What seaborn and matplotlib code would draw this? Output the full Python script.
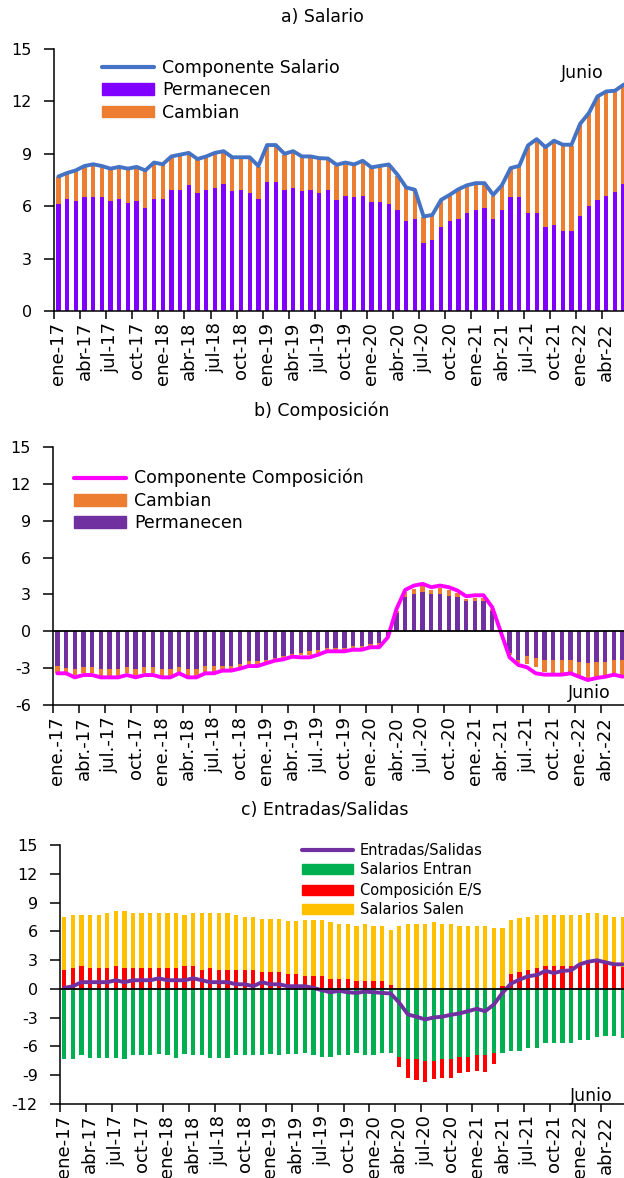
import numpy as np
import seaborn as sns
import matplotlib.pyplot as plt
from matplotlib.lines import Line2D
from matplotlib.patches import Patch

# meses ene-17 a jun-22
meses = ["ene", "feb", "mar", "abr", "may", "jun", "jul", "ago", "sep", "oct", "nov", "dic"]
periodos = [f"{m}-{a}" for a in range(17, 23) for m in meses][:66]
etiquetas = [f"{m}-{a}" for a in range(17, 23) for m in ["ene", "abr", "jul", "oct"]][:22]
etiquetas_b = [f"{m}.-{a}" for a in range(17, 23) for m in ["ene", "abr", "jul", "oct"]][:22]

# a) Salario
componente_salario = [7.7, 7.9, 8.05, 8.3, 8.4, 8.3, 8.15, 8.25, 8.15, 8.25, 8.05, 8.5,
                      8.4, 8.85, 8.95, 9.05, 8.7, 8.85, 9.05, 9.15, 8.8, 8.8, 8.8, 8.3,
                      9.5, 9.5, 9.0, 9.15, 8.85, 8.85, 8.75, 8.73, 8.37, 8.5, 8.39, 8.6,
                      8.22, 8.31, 8.39, 7.8, 7.07, 6.94, 5.41, 5.5, 6.36, 6.65, 6.97, 7.2,
                      7.32, 7.32, 6.65, 7.2, 8.18, 8.31, 9.48, 9.84, 9.38, 9.75, 9.52, 9.52,
                      10.72, 11.33, 12.29, 12.57, 12.61, 12.96]
permanecen_a = [6.1, 6.4, 6.3, 6.5, 6.5, 6.5, 6.3, 6.4, 6.2, 6.3, 5.9, 6.4,
                6.4, 6.95, 6.95, 7.2, 6.75, 6.95, 7.05, 7.25, 6.85, 6.95, 6.75, 6.4,
                7.4, 7.4, 6.95, 7.05, 6.85, 6.95, 6.75, 6.95, 6.35, 6.6, 6.5, 6.6,
                6.25, 6.25, 6.15, 5.8, 5.15, 5.25, 3.9, 4.05, 4.8, 5.15, 5.25, 5.6,
                5.8, 5.9, 5.25, 5.8, 6.5, 6.5, 5.6, 5.6, 4.8, 4.95, 4.6, 4.6,
                5.45, 6.0, 6.35, 6.6, 6.8, 7.25]
cambian_a = [1.55, 1.45, 1.7, 1.75, 1.85, 1.75, 1.8, 1.8, 1.9, 1.9, 2.1, 2.05,
             1.95, 1.85, 1.95, 1.8, 1.9, 1.85, 1.95, 1.85, 1.9, 1.8, 2.0, 1.85,
             2.05, 2.05, 2.0, 2.05, 1.95, 1.85, 1.95, 1.73, 1.97, 1.85, 1.84, 1.95,
             1.92, 2.01, 2.19, 1.95, 1.87, 1.64, 1.46, 1.4, 1.51, 1.45, 1.67, 1.55,
             1.47, 1.37, 1.35, 1.35, 1.63, 1.76, 3.83, 4.19, 4.53, 4.75, 4.87, 4.87,
             5.22, 5.28, 5.89, 5.92, 5.76, 5.66]

# b) Composicion
componente_composicion = [-3.42, -3.42, -3.75, -3.56, -3.56, -3.75, -3.75, -3.75, -3.56, -3.75, -3.56, -3.56,
                          -3.75, -3.75, -3.42, -3.75, -3.75, -3.42, -3.42, -3.2, -3.2, -3.04, -2.83, -2.83,
                          -2.61, -2.39, -2.28, -2.07, -2.12, -2.12, -1.9, -1.63, -1.63, -1.63, -1.5, -1.5,
                          -1.3, -1.3, -0.49, 1.82, 3.37, 3.72, 3.86, 3.59, 3.72, 3.59, 3.32, 2.85,
                          2.93, 2.93, 1.96, -0.08, -2.12, -2.74, -2.93, -3.42, -3.53, -3.53, -3.53, -3.42,
                          -3.7, -3.97, -3.8, -3.7, -3.53, -3.7]
permanecen_b = [-2.8, -3.0, -3.1, -2.93, -2.93, -3.1, -3.1, -3.1, -2.93, -3.1, -2.93, -2.93,
                -3.1, -3.1, -2.88, -3.1, -3.1, -2.83, -2.83, -2.83, -2.83, -2.66, -2.45, -2.45,
                -2.34, -2.17, -2.0, -1.85, -1.8, -1.63, -1.5, -1.36, -1.36, -1.36, -1.22, -1.22,
                -1.03, -0.98, -0.4, 1.47, 2.77, 3.04, 3.18, 3.04, 3.04, 2.9, 2.77, 2.5,
                2.45, 2.45, 1.68, -0.1, -1.79, -2.31, -1.98, -2.17, -2.34, -2.34, -2.34, -2.34,
                -2.47, -2.6, -2.47, -2.47, -2.34, -2.34]
cambian_b = [-0.6, -0.35, -0.45, -0.5, -0.5, -0.5, -0.5, -0.5, -0.5, -0.5, -0.5, -0.5,
             -0.5, -0.5, -0.45, -0.5, -0.5, -0.45, -0.45, -0.3, -0.3, -0.3, -0.3, -0.3,
             -0.2, -0.15, -0.2, -0.15, -0.15, -0.3, -0.3, -0.2, -0.2, -0.2, -0.2, -0.2,
             -0.2, -0.25, -0.1, 0.2, 0.41, 0.41, 0.49, 0.36, 0.46, 0.47, 0.33, 0.14,
             0.27, 0.27, 0.1, -0.05, -0.11, -0.27, -0.68, -0.71, -1.0, -1.09, -1.09, -1.0,
             -1.22, -1.2, -1.22, -1.14, -1.14, -1.28]

# c) Entradas/Salidas
entradas_salidas = [0.1, 0.28, 0.7, 0.7, 0.7, 0.7, 0.9, 0.7, 0.9, 0.9, 0.9, 1.1,
                    0.9, 0.9, 0.9, 1.1, 0.9, 0.7, 0.7, 0.7, 0.48, 0.48, 0.28, 0.7,
                    0.48, 0.48, 0.28, 0.28, 0.28, 0.1, -0.14, -0.35, -0.2, -0.35, -0.42, -0.28,
                    -0.35, -0.42, -0.48, -1.45, -2.67, -2.9, -3.19, -2.98, -2.9, -2.7, -2.56, -2.32,
                    -2.08, -2.32, -1.63, -0.42, 0.55, 0.97, 1.32, 1.45, 1.87, 1.66, 1.87, 1.94,
                    2.56, 2.84, 2.98, 2.77, 2.56, 2.56]
salarios_entran = [-7.34, -7.34, -6.93, -7.2, -7.2, -7.2, -7.2, -7.34, -6.93, -6.93, -6.93, -6.79,
                   -6.93, -7.2, -6.79, -6.93, -6.93, -7.2, -7.2, -7.2, -6.93, -6.93, -6.93, -6.93,
                   -6.79, -6.93, -6.79, -6.79, -6.65, -6.93, -7.14, -7.14, -6.93, -6.93, -6.72, -6.93,
                   -6.93, -6.72, -6.72, -7.14, -7.34, -7.34, -7.5, -7.5, -7.34, -7.34, -7.14, -7.14,
                   -6.93, -6.93, -6.72, -6.72, -6.48, -6.48, -6.13, -6.13, -5.68, -5.68, -5.6, -5.6,
                   -5.33, -5.33, -4.99, -4.92, -4.92, -5.1]
composicion_es = [1.94, 2.15, 2.35, 2.15, 2.15, 2.15, 2.35, 2.15, 2.15, 2.15, 2.15, 2.15,
                  2.15, 2.15, 2.35, 2.35, 1.94, 2.15, 1.94, 1.94, 1.94, 1.94, 1.94, 1.73,
                  1.73, 1.73, 1.52, 1.52, 1.32, 1.32, 1.32, 1.07, 1.07, 1.07, 0.87, 0.87,
                  0.87, 0.87, 0.45, -1.0, -1.91, -2.16, -2.2, -1.92, -1.91, -1.91, -1.59, -1.52,
                  -1.63, -1.73, -1.14, 0.28, 1.6, 1.73, 1.94, 2.15, 2.35, 2.35, 2.35, 2.35,
                  2.56, 2.7, 2.77, 2.77, 2.56, 2.3]
salarios_salen = [5.54, 5.54, 5.34, 5.54, 5.54, 5.75, 5.79, 5.99, 5.75, 5.75, 5.75, 5.75,
                  5.75, 5.75, 5.34, 5.55, 5.96, 5.75, 5.96, 5.96, 5.75, 5.54, 5.54, 5.54,
                  5.54, 5.54, 5.55, 5.55, 5.81, 5.81, 5.81, 5.86, 5.65, 5.65, 5.64, 5.85,
                  5.64, 5.64, 5.72, 6.51, 6.72, 6.72, 6.72, 6.93, 6.72, 6.72, 6.51, 6.51,
                  6.51, 6.51, 6.3, 6.02, 5.6, 5.61, 5.54, 5.54, 5.34, 5.34, 5.34, 5.34,
                  5.13, 5.2, 5.13, 4.92, 4.92, 5.18]

sns.set_style("white")
plt.rcParams["font.family"] = ["DejaVu Sans"]
plt.rcParams["axes.linewidth"] = 1.1
plt.rcParams["axes.unicode_minus"] = False
for k in ["text.color", "xtick.color", "ytick.color", "axes.labelcolor"]:
    plt.rcParams[k] = "black"

W, H = 624, 1178
fig = plt.figure(figsize=(W / 100, H / 100), dpi=100)


def ejes(left, top, bottom, width=574):
    return fig.add_axes([left / W, 1 - bottom / H, width / W, (bottom - top) / H])


def barras(ax, valores, color):
    sns.barplot(x=periodos, y=valores, order=periodos, color=color, width=0.5,
                saturation=1, edgecolor="none", linewidth=0, errorbar=None, ax=ax)


def formato(ax, ymin, ymax, labels, cero=False):
    ax.set_xlim(-0.5, 65.5)
    ax.set_ylim(ymin, ymax)
    ax.set_yticks(range(ymin, ymax + 1, 3))
    ax.set_xticks(range(0, 66, 3))
    ax.set_xticklabels(labels, rotation=90, fontsize=13)
    ax.set_xticks(np.arange(-0.5, 66, 3), minor=True)
    ax.tick_params(axis="x", which="major", bottom=True, length=0, pad=8)
    ax.tick_params(axis="x", which="minor", bottom=True, length=6, width=1.1,
                   color="black", direction="out")
    ax.tick_params(axis="y", left=True, length=7, width=1.1, color="black",
                   direction="out", pad=9, labelsize=11.5)
    ax.spines["top"].set_visible(False)
    ax.spines["right"].set_visible(False)
    ax.spines["left"].set_color("black")
    ax.spines["bottom"].set_color("black")
    ax.set_xlabel("")
    ax.set_ylabel("")
    if cero:
        ax.axhline(0, color="black", lw=1.3, zorder=3)


# a) Salario
ax_a = ejes(54, 49, 311)
total_a = np.array(permanecen_a) + np.array(cambian_a)
barras(ax_a, total_a, "#ED7D31")
barras(ax_a, permanecen_a, "#7F00FF")
sns.lineplot(x=np.arange(66), y=componente_salario, color="#4472C4", lw=2.8, ax=ax_a)
formato(ax_a, 0, 15, etiquetas)
fig.text(582 / W, 1 - 73 / H, "Junio", fontsize=12.5, ha="center", va="center")
fig.text(322 / W, 1 - 17 / H, "a) Salario", fontsize=12.5, ha="center", va="center")
ax_a.legend(handles=[Line2D([], [], color="#4472C4", lw=3),
                     Patch(color="#7F00FF"), Patch(color="#ED7D31")],
            labels=["Componente Salario", "Permanecen", "Cambian"],
            loc="upper left", bbox_to_anchor=(102 / W, 1 - 59 / H), bbox_transform=fig.transFigure,
            frameon=False, fontsize=12.5, handlelength=3.0, handleheight=0.65,
            handletextpad=0.45, labelspacing=0.25, borderpad=0, borderaxespad=0)

# b) Composicion
ax_b = ejes(53, 447, 705)
total_b = np.array(permanecen_b) + np.array(cambian_b)
barras(ax_b, total_b, "#ED7D31")
barras(ax_b, permanecen_b, "#7030A0")
sns.lineplot(x=np.arange(66), y=componente_composicion, color="#FF00FF", lw=2.8, ax=ax_b)
formato(ax_b, -6, 15, etiquetas_b, cero=True)
fig.text(589 / W, 1 - 693 / H, "Junio", fontsize=12.5, ha="center", va="center")
fig.text(322 / W, 1 - 411 / H, "b) Composición", fontsize=12.5, ha="center", va="center")
ax_b.legend(handles=[Line2D([], [], color="#FF00FF", lw=3),
                     Patch(color="#ED7D31"), Patch(color="#7030A0")],
            labels=["Componente Composición", "Cambian", "Permanecen"],
            loc="upper left", bbox_to_anchor=(74 / W, 1 - 469 / H), bbox_transform=fig.transFigure,
            frameon=False, fontsize=12.5, handlelength=3.0, handleheight=0.65,
            handletextpad=0.45, labelspacing=0.25, borderpad=0, borderaxespad=0)

# c) Entradas/Salidas
ax_c = ejes(60, 845, 1104, width=567)
comp = np.array(composicion_es)
comp_pos = np.clip(comp, 0, None)
comp_neg = np.clip(comp, None, 0)
barras(ax_c, comp_pos + np.array(salarios_salen), "#FFC000")
barras(ax_c, comp_pos, "#FF0000")
barras(ax_c, np.array(salarios_entran) + comp_neg, "#FF0000")
barras(ax_c, salarios_entran, "#00B050")
sns.lineplot(x=np.arange(66), y=entradas_salidas, color="#7030A0", lw=2.8, ax=ax_c)
formato(ax_c, -12, 15, etiquetas, cero=True)
fig.text(591 / W, 1 - 1096 / H, "Junio", fontsize=12.5, ha="center", va="center")
fig.text(325 / W, 1 - 810 / H, "c) Entradas/Salidas", fontsize=12.5, ha="center", va="center")
ax_c.legend(handles=[Line2D([], [], color="#7030A0", lw=3),
                     Patch(color="#00B050"), Patch(color="#FF0000"), Patch(color="#FFC000")],
            labels=["Entradas/Salidas", "Salarios Entran", "Composición E/S", "Salarios Salen"],
            loc="upper left", bbox_to_anchor=(302 / W, 1 - 843 / H), bbox_transform=fig.transFigure,
            frameon=False, fontsize=10.5, handlelength=3.5, handleheight=0.7,
            handletextpad=0.45, labelspacing=0.3, borderpad=0, borderaxespad=0)

fig.savefig("out.png", dpi=100)
